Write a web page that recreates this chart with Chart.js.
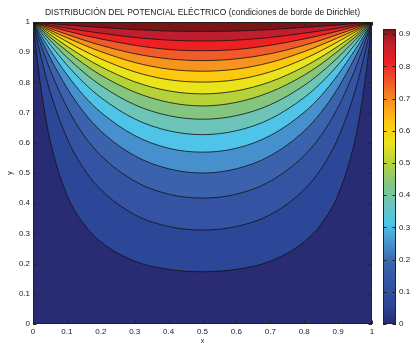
<!DOCTYPE html>
<html>
<head>
<meta charset="utf-8">
<script src="https://cdn.jsdelivr.net/npm/chart.js@4.4.1/dist/chart.umd.min.js"></script>
<style>
  body { margin: 0; background: #fff; }
  #wrap { position: relative; width: 416px; height: 344px; }
  canvas { position: absolute; left: 0; top: 0; }
</style>
</head>
<body>
<div id="wrap">
  <canvas id="contour" width="416" height="344"></canvas>
  <canvas id="cbar" width="416" height="344"></canvas>
</div>
<script>
// contour levels of the potential and the height y of each contour line,
// read off the plot at the x positions of xHalf (the plot is symmetric about x = 0.5)
var levels = [0.0625, 0.125, 0.1875, 0.25, 0.3125, 0.375, 0.4375, 0.5,
              0.5625, 0.625, 0.6875, 0.75, 0.8125, 0.875, 0.9375];
var xHalf = [0, 0.01, 0.025, 0.05, 0.1, 0.15, 0.2, 0.3, 0.4, 0.5];

var y01 = [1, 0.900, 0.769, 0.610, 0.428, 0.331, 0.272, 0.208, 0.181, 0.173];
var y02 = [1, 0.950, 0.878, 0.771, 0.616, 0.514, 0.445, 0.362, 0.323, 0.311];
var y03 = [1, 0.967, 0.919, 0.843, 0.718, 0.625, 0.558, 0.473, 0.430, 0.417];
var y04 = [1, 0.976, 0.940, 0.883, 0.782, 0.701, 0.639, 0.557, 0.514, 0.500];
var y05 = [1, 0.981, 0.953, 0.908, 0.826, 0.756, 0.701, 0.624, 0.582, 0.569];
var y06 = [1, 0.985, 0.963, 0.926, 0.858, 0.799, 0.750, 0.679, 0.640, 0.627];
var y07 = [1, 0.988, 0.970, 0.940, 0.883, 0.833, 0.790, 0.726, 0.690, 0.678];
var y08 = [1, 0.990, 0.975, 0.950, 0.904, 0.861, 0.824, 0.768, 0.734, 0.722];
var y09 = [1, 0.992, 0.980, 0.959, 0.920, 0.884, 0.852, 0.802, 0.772, 0.762];
var y10 = [1, 0.993, 0.983, 0.967, 0.935, 0.905, 0.878, 0.835, 0.809, 0.801];
var y11 = [1, 0.995, 0.987, 0.973, 0.948, 0.924, 0.902, 0.866, 0.844, 0.837];
var y12 = [1, 0.996, 0.990, 0.979, 0.959, 0.940, 0.923, 0.895, 0.878, 0.872];
var y13 = [1, 0.997, 0.992, 0.985, 0.970, 0.956, 0.944, 0.923, 0.909, 0.905];
var y14 = [1, 0.998, 0.995, 0.990, 0.980, 0.971, 0.963, 0.949, 0.940, 0.937];
var y15 = [1, 0.999, 0.998, 0.995, 0.990, 0.986, 0.982, 0.975, 0.970, 0.969];
var contourY = [y01, y02, y03, y04, y05, y06, y07, y08, y09, y10, y11, y12, y13, y14, y15];

// colour range of the colorbar
var cbRange = [0, 0.916];

// fill colour of each band, from below the first level up to above the last
var bandColors = ['#292b73', '#2d4798', '#3453a3', '#3b63ad', '#4691cd', '#4ec5e8',
                  '#6dc5b9', '#84c67f', '#b5d23a', '#ece41b', '#fdc810', '#f7941e',
                  '#f15a29', '#ed2024', '#be1e2d', '#7d1416'];

var font = { family: "'Liberation Sans', Arial, sans-serif", size: 8 };
var ink = '#1a1a1a';

function mirror(xs, ys) {
  var pts = [];
  for (var i = 0; i < xs.length; i++) pts.push({ x: xs[i], y: ys[i] });
  for (var j = xs.length - 2; j >= 0; j--) pts.push({ x: 1 - xs[j], y: ys[j] });
  return pts;
}

// matlab style tick text: 0, 0.1 ... 0.9, 1
function tickText(v) {
  return String(Math.round(v * 10) / 10);
}

// chart area background + inward ticks and box, like matlab axes
var frame = {
  id: 'frame',
  beforeDraw: function (chart, args, opts) {
    if (!opts.bg) return;
    var a = chart.chartArea, c = chart.ctx;
    c.save();
    c.fillStyle = opts.bg;
    c.fillRect(a.left, a.top, a.right - a.left, a.bottom - a.top);
    c.restore();
  },
  afterDraw: function (chart) {
    var a = chart.chartArea, c = chart.ctx, len = 3.5;
    c.save();
    c.strokeStyle = '#222';
    c.lineWidth = 1;
    c.beginPath();
    Object.values(chart.scales).forEach(function (s) {
      if (!s.options.display) return;
      s.ticks.forEach(function (t) {
        var p = Math.round(s.getPixelForValue(t.value)) + 0.5;
        if (s.isHorizontal()) {
          c.moveTo(p, a.bottom); c.lineTo(p, a.bottom - len);
          c.moveTo(p, a.top); c.lineTo(p, a.top + len);
        } else {
          c.moveTo(a.left, p); c.lineTo(a.left + len, p);
          c.moveTo(a.right, p); c.lineTo(a.right - len, p);
        }
      });
    });
    c.stroke();
    c.strokeRect(Math.round(a.left) + 0.5, Math.round(a.top) + 0.5,
                 Math.round(a.right - a.left) - 1, Math.round(a.bottom - a.top) - 1);
    c.restore();
  }
};

var datasets = contourY.map(function (ys, i) {
  return {
    label: 'V = ' + levels[i],
    data: mirror(xHalf, ys),
    borderColor: '#111',
    borderWidth: 0.8,
    backgroundColor: bandColors[i + 1],
    fill: 'end',
    pointRadius: 0,
    cubicInterpolationMode: 'monotone',
    order: levels.length - i
  };
});

new Chart(document.getElementById('contour'), {
  type: 'line',
  data: { datasets: datasets },
  options: {
    responsive: false,
    animation: false,
    devicePixelRatio: 1,
    events: [],
    layout: { padding: { left: 0, right: 44, top: 0, bottom: 0 } },
    plugins: {
      legend: { display: false },
      tooltip: { enabled: false },
      filler: { drawTime: 'beforeDatasetsDraw' },
      frame: { bg: bandColors[0] },
      title: {
        display: true,
        fullSize: false,
        text: 'DISTRIBUCIÓN DEL POTENCIAL ELÉCTRICO (condiciones de borde de Dirichlet)',
        color: ink,
        font: { family: font.family, size: 8.5, weight: 'normal' },
        padding: { top: 8, bottom: 3.8 }
      }
    },
    scales: {
      x: {
        type: 'linear', min: 0, max: 1,
        grid: { display: false, drawTicks: false },
        border: { display: false },
        ticks: { stepSize: 0.1, padding: 3, font: font, color: ink, maxRotation: 0, callback: tickText },
        title: { display: true, text: 'x', color: ink, font: { family: font.family, size: 7 }, padding: { top: 0, bottom: -1 } },
        afterFit: function (s) { s.height = 20; }
      },
      y: {
        type: 'linear', min: 0, max: 1,
        grid: { display: false, drawTicks: false },
        border: { display: false },
        ticks: { stepSize: 0.1, padding: 3, font: font, color: ink, callback: tickText },
        title: { display: true, text: 'y', color: ink, font: { family: font.family, size: 7 }, padding: { top: 6, bottom: 0 } },
        afterFit: function (s) { s.width = 33; }
      }
    }
  },
  plugins: [frame]
});

function cbGradient(ctx) {
  var chart = ctx.chart;
  if (!chart.chartArea) return bandColors[0];
  var y = chart.scales.y;
  var g = chart.ctx.createLinearGradient(0, y.getPixelForValue(cbRange[0]), 0, y.getPixelForValue(cbRange[1]));
  bandColors.forEach(function (col, k) {
    var v = k === 0 ? 0 : levels[k - 1];
    g.addColorStop(Math.min(v / cbRange[1], 1), col);
  });
  return g;
}

new Chart(document.getElementById('cbar'), {
  type: 'bar',
  data: {
    labels: ['V'],
    datasets: [{
      data: [cbRange],
      backgroundColor: cbGradient,
      borderWidth: 0,
      barPercentage: 1,
      categoryPercentage: 1
    }]
  },
  options: {
    responsive: false,
    animation: false,
    devicePixelRatio: 1,
    events: [],
    layout: { padding: { left: 383, right: 0, top: 29, bottom: 20 } },
    plugins: {
      legend: { display: false },
      tooltip: { enabled: false },
      frame: {}
    },
    scales: {
      x: { display: false },
      y: {
        position: 'right', min: cbRange[0], max: cbRange[1],
        grid: { display: false, drawTicks: false },
        border: { display: false },
        ticks: { stepSize: 0.1, includeBounds: false, padding: 3, font: font, color: ink, callback: tickText },
        afterFit: function (s) { s.width = 20; }
      }
    }
  },
  plugins: [frame]
});
</script>
</body>
</html>
